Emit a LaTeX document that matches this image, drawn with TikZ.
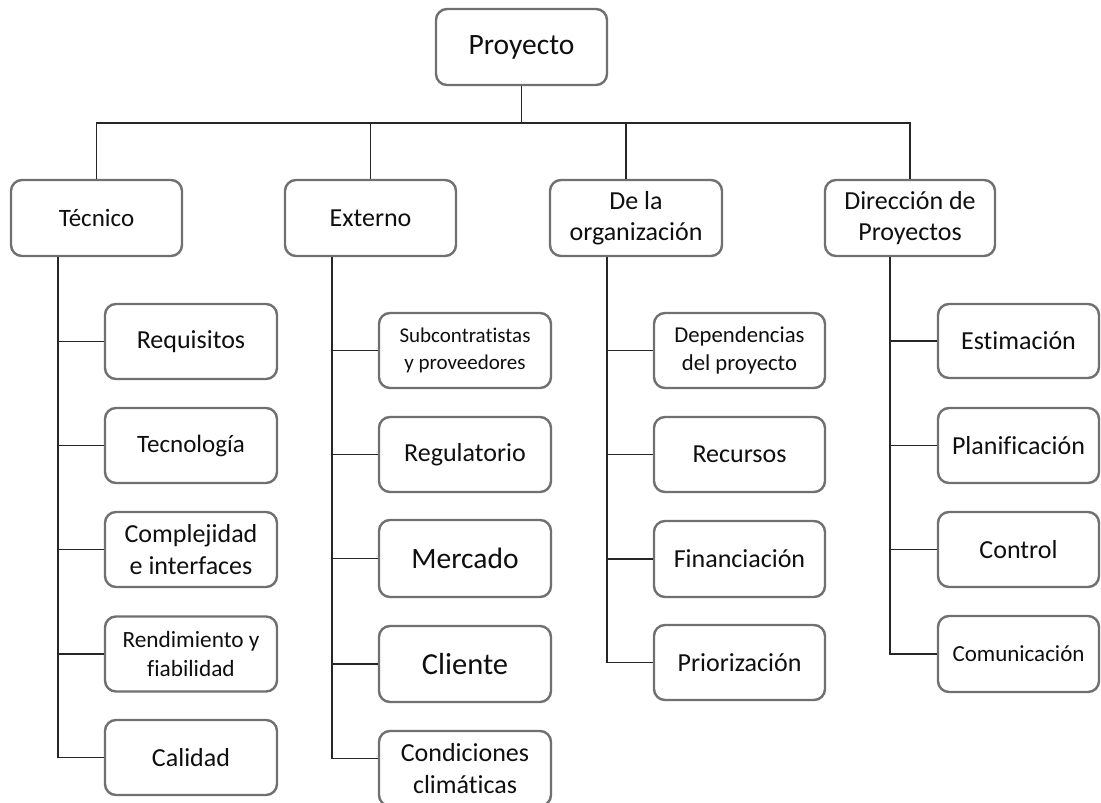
\documentclass[tikz,border=0pt]{standalone}
\usepackage{fontspec}
\setmainfont[Ligatures=NoCommon]{Carlito}
\definecolor{bordergray}{RGB}{112,112,112}
\definecolor{txt}{RGB}{15,15,15}
\newcommand\fsz[2]{\fontsize{#1}{#2}\selectfont}
\begin{document}
\begin{tikzpicture}[x=1pt,y=-1pt,
  box/.style={draw=bordergray, line width=2.4pt, rounded corners=11pt, fill=white,
    minimum width=171pt, minimum height=75pt, inner sep=0pt, align=center,
    text=txt, font=\fsz{26}{31.5}},
  conn/.style={line width=1.6pt, draw=black!85}]
\fill[white] (0,0) rectangle (1101,803);
\useasboundingbox (0,0) rectangle (1101,803);

% level 0 and 1
\node[box, font=\fsz{29.5}{36}, minimum height=76pt] (P) at (521.5,47) {Proyecto};
\node[box, font=\fsz{25}{31}, minimum height=76pt] (Tec) at (96.5,218) {Técnico};
\node[box, minimum height=76pt] (Ext) at (370.5,218) {Externo};
\node[box, minimum height=76pt, minimum width=172pt] (Org) at (636,218) {De la\\organización};
\node[box, minimum height=76pt, minimum width=170pt] (Dir) at (910,218) {Dirección de\\Proyectos};

% column 1
\node[box, minimum width=172pt] (Req)  at (191,341.5) {Requisitos};
\node[box, font=\fsz{25}{31}, minimum width=172pt] (Tecn) at (191,445.5) {Tecnología};
\node[box, minimum width=172pt] (Comp) at (191,549.5) {Complejidad\\e interfaces};
\node[box, font=\fsz{23.3}{28.5}, minimum width=172pt] (Rend) at (191,654) {Rendimiento y\\fiabilidad};
\node[box, minimum width=172pt] (Cal)  at (191,757.5) {Calidad};

% column 2
\node[box, font=\fsz{21}{27}, minimum width=172pt] (Sub) at (465,350.5) {Subcontratistas\\y proveedores};
\node[box, minimum width=172pt] (Reg) at (465,454.5) {Regulatorio};
\node[box, font=\fsz{29.5}{36}, minimum width=172pt, minimum height=77pt] (Mer) at (465,558.5) {Mercado};
\node[box, font=\fsz{30.5}{36}, minimum width=172pt, minimum height=76pt] (Cli) at (465,664) {Cliente};
\node[box, minimum width=172pt] (Cond) at (465,768.5) {Condiciones\\climáticas};

% column 3
\node[box, font=\fsz{22.7}{28.5}] (Dep) at (739.5,350.5) {Dependencias\\del proyecto};
\node[box] (Rec) at (739.5,454.5) {Recursos};
\node[box, minimum height=76pt] (Fin) at (739.5,559) {Financiación};
\node[box] (Pri) at (739.5,662.5) {Priorización};

% column 4
\node[box, minimum width=161pt, minimum height=74pt] (Est) at (1018.5,341) {Estimación};
\node[box, minimum width=161pt] (Pla) at (1018.5,445.5) {Planificación};
\node[box, minimum width=161pt] (Con) at (1018.5,549.5) {Control};
\node[box, font=\fsz{23}{28}, minimum width=161pt, minimum height=76pt] (Com) at (1018.5,654) {Comunicación};

% top tree
\coordinate (bus) at (0,123);
\draw[conn] (P.south) -- (P.south |- bus);
\draw[conn] (Tec.north) |- (Dir.north |- bus) -- (Dir.north);
\draw[conn] (Ext.north) -- (Ext.north |- bus);
\draw[conn] ([xshift=-10pt]Org.north) -- ([xshift=-10pt]Org.north |- bus);

% column trunks
\coordinate (t1) at ([xshift=-38.5pt]Tec.south);
\coordinate (t2) at ([xshift=-38.5pt]Ext.south);
\coordinate (t3) at ([xshift=-29pt]Org.south);
\coordinate (t4) at ([xshift=-20pt]Dir.south);

\draw[conn] (t1) |- (Cal.west);
\foreach \n in {Req,Tecn,Comp,Rend} \draw[conn] (\n.west) -- (\n.west -| t1);

\draw[conn] (t2) |- ([yshift=10pt]Cond.west);
\foreach \n in {Sub,Reg,Mer,Cli} \draw[conn] (\n.west) -- (\n.west -| t2);

\draw[conn] (t3) |- (Pri.west);
\foreach \n in {Dep,Rec,Fin} \draw[conn] (\n.west) -- (\n.west -| t3);

\draw[conn] (t4) |- (Com.west);
\foreach \n in {Est,Pla,Con} \draw[conn] (\n.west) -- (\n.west -| t4);
\end{tikzpicture}
\end{document}
